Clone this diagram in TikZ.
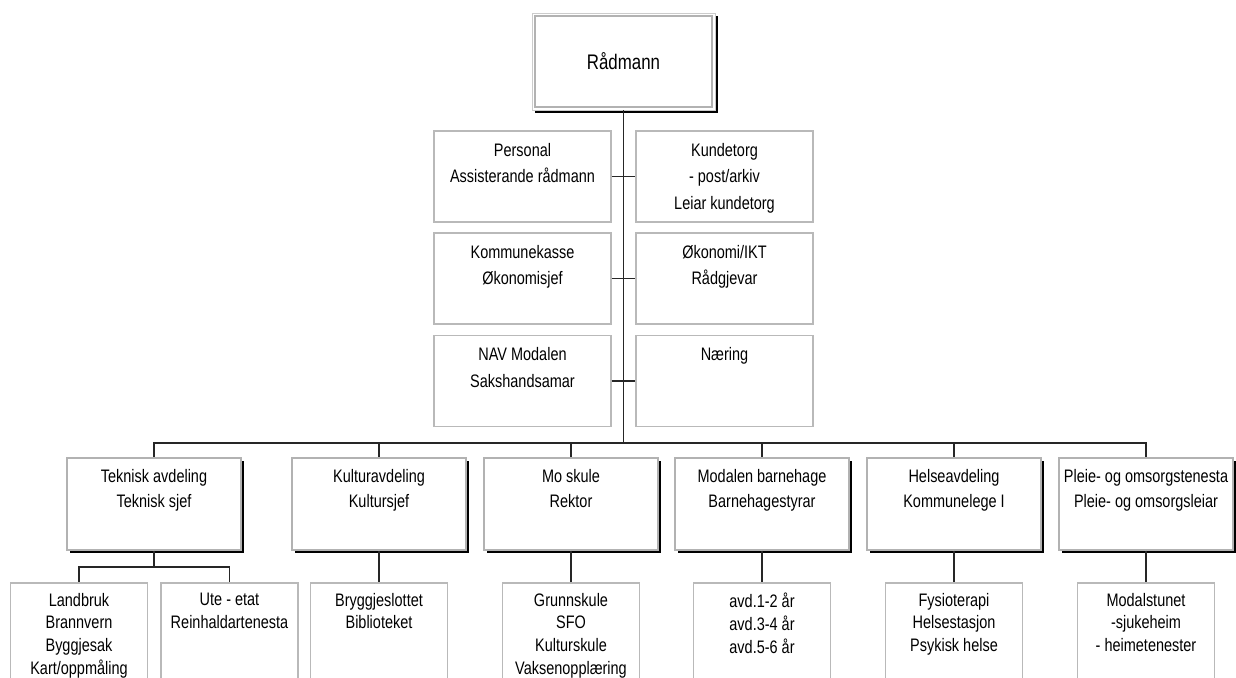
\documentclass[tikz,border=0pt]{standalone}
\usepackage{fontspec}
\setmainfont{Liberation Sans}[FakeStretch=0.8]
\usetikzlibrary{shadows}
\newlength\unitpx
\setlength\unitpx{0.02cm}

\begin{document}
\begin{tikzpicture}[x=0.02cm, y=-0.02cm,
    line/.style={draw=black!85, line width=0.6pt},
    chief/.style={draw=gray!40, line width=0.5pt, fill=white, inner sep=0pt,
      minimum width=183\unitpx, minimum height=97\unitpx,
      font=\fontsize{12}{14}\selectfont,
      drop shadow={shadow xshift=1.8pt, shadow yshift=-1.8pt, fill=black, opacity=1}},
    staff/.style={draw=gray!55, line width=0.6pt, fill=white, inner sep=0pt,
      font=\fontsize{10.3}{15.1}\selectfont,
      execute at begin node={\begin{minipage}[c][91\unitpx][t]{177\unitpx}\centering\vspace*{12\unitpx}},
      execute at end node={\end{minipage}}},
    dept/.style={draw=gray!60, line width=0.6pt, fill=white, inner sep=0pt,
      font=\fontsize{10.3}{14.2}\selectfont,
      drop shadow={shadow xshift=1.8pt, shadow yshift=-1.8pt, fill=black, opacity=1},
      execute at begin node={\begin{minipage}[c][92\unitpx][t]{174\unitpx}\centering\vspace*{11\unitpx}},
      execute at end node={\end{minipage}}},
    leaf/.style={draw=gray!55, line width=0.6pt, fill=white, inner sep=0pt,
      font=\fontsize{10.3}{13}\selectfont,
      execute at begin node={\begin{minipage}[c][120\unitpx][t]{137\unitpx}\centering\vspace*{10\unitpx}},
      execute at end node={\end{minipage}}}]
  \useasboundingbox (0,0) rectangle (1236,677);
  \clip (0,0) rectangle (1236,677);

  \node[chief] (rad) at (623.5,61.5) {Rådmann};
  \draw[gray!60, line width=1.5pt] ([shift={(3.5,3.5)}]rad.north west) rectangle ([shift={(-3.5,-3.5)}]rad.south east);

  \node[staff] (pers) at (522.5,176.5) {Personal\\Assisterande rådmann};
  \node[staff] (kunde) at (724.5,176.5) {Kundetorg\\- post/arkiv\\Leiar kundetorg};
  \node[staff] (kasse) at (522.5,278.5) {Kommunekasse\\Økonomisjef};
  \node[staff] (ikt) at (724.5,278.5) {Økonomi/IKT\\Rådgjevar};
  \node[staff] (nav) at (522.5,381) {NAV Modalen\\Sakshandsamar};
  \node[staff] (naer) at (724.5,381) {Næring};

  \coordinate (bus) at (623.5,443);
  \node[dept] (tek) at (154,504) {Teknisk avdeling\\Teknisk sjef};
  \node[dept] (kult) at (379,504) {Kulturavdeling\\Kultursjef};
  \node[dept] (mo) at (571,504) {Mo skule\\Rektor};
  \node[dept] (bhage) at (762,504) {Modalen barnehage\\Barnehagestyrar};
  \node[dept] (helse) at (954,504) {Helseavdeling\\Kommunelege I};
  \node[dept] (pleie) at (1146,504) {Pleie- og omsorgstenesta\\Pleie- og omsorgsleiar};

  \coordinate (tbus) at (154,567);
  \node[leaf] (land) at (79,643) {Landbruk\\Brannvern\\Byggjesak\\Kart/oppmåling};
  \node[leaf] (ute) at (229.5,643) {Ute - etat\\Reinhaldartenesta};
  \node[leaf] (bibl) at (379,643) {Bryggjeslottet\\Biblioteket};
  \node[leaf] (grunn) at (571,643) {Grunnskule\\SFO\\Kulturskule\\Vaksenopplæring};
  \node[leaf] (avd) at (762,643) {avd.1-2 år\\avd.3-4 år\\avd.5-6 år};
  \node[leaf] (fysio) at (954,643) {Fysioterapi\\Helsestasjon\\Psykisk helse};
  \node[leaf] (stunet) at (1146,643) {Modalstunet\\-sjukeheim\\- heimetenester};

  \draw[line] (rad.south) -- (bus);
  \draw[line] (pers.east) -- (kunde.west);
  \draw[line] (kasse.east) -- (ikt.west);
  \draw[line] (nav.east) -- (naer.west);

  \draw[line] (bus) -| (tek.north);
  \draw[line] (bus) -| (kult.north);
  \draw[line] (bus) -| (mo.north);
  \draw[line] (bus) -| (bhage.north);
  \draw[line] (bus) -| (helse.north);
  \draw[line] (bus) -| (pleie.north);

  \draw[line] (tek.south) -- (tbus);
  \draw[line] (tbus) -| (land.north);
  \draw[line] (tbus) -| (ute.north);
  \draw[line] (kult.south) -- (bibl.north);
  \draw[line] (mo.south) -- (grunn.north);
  \draw[line] (bhage.south) -- (avd.north);
  \draw[line] (helse.south) -- (fysio.north);
  \draw[line] (pleie.south) -- (stunet.north);
\end{tikzpicture}
\end{document}
